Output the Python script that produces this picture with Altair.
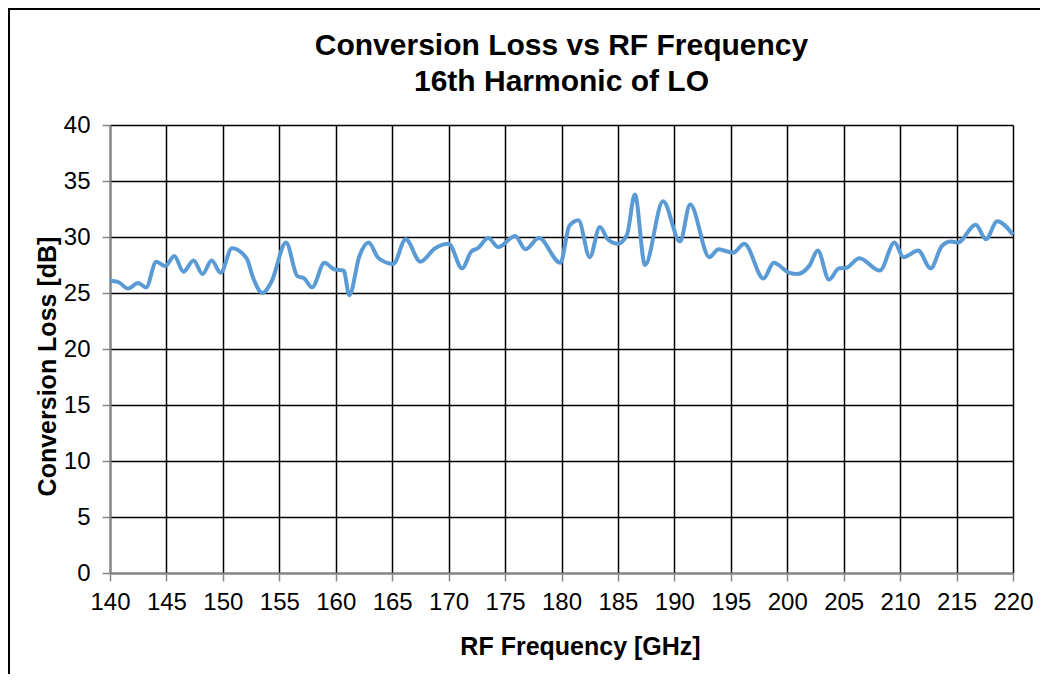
import altair as alt
import pandas as pd

freq = [140.0, 140.7, 141.6, 142.5, 143.2, 144.1, 144.9, 145.7, 146.5, 147.4, 148.2, 149.0, 149.8,
        150.8, 152.1, 152.7, 153.5, 154.3, 155.6, 156.6, 157.2, 157.9, 159.0, 159.9, 160.7,
        161.2, 162.1, 162.9, 163.8, 165.1, 166.2, 167.5, 168.8, 170.0, 171.2, 172.0, 172.6,
        173.5, 174.4, 175.9, 176.8, 178.0, 179.9, 180.7, 181.5, 182.5, 183.4, 184.1, 185.0,
        185.8, 186.5, 187.4, 189.0, 190.5, 191.4, 193.1, 193.9, 195.2, 196.2, 197.9, 198.8,
        200.2, 200.9, 202.0, 202.7, 203.7, 204.6, 205.1, 206.4, 208.2, 209.5, 210.3, 211.6,
        212.7, 213.7, 214.5, 215.1, 216.7, 217.6, 218.6, 220.0]
loss = [26.1, 26.0, 25.4, 25.9, 25.5, 27.8, 27.4, 28.3, 26.9, 27.9, 26.7, 27.9, 26.8,
        29.0, 28.1, 26.3, 25.0, 26.0, 29.5, 26.5, 26.3, 25.5, 27.7, 27.1, 27.0,
        24.8, 28.3, 29.5, 28.1, 27.6, 29.8, 27.8, 29.0, 29.4, 27.2, 28.7, 29.0,
        29.9, 29.1, 30.1, 28.9, 29.9, 27.7, 31.0, 31.5, 28.2, 30.9, 29.8, 29.4,
        30.2, 33.8, 27.5, 33.2, 29.6, 32.9, 28.2, 28.9, 28.6, 29.4, 26.3, 27.7,
        26.8, 26.7, 27.5, 28.8, 26.2, 27.2, 27.2, 28.1, 27.0, 29.5, 28.2, 28.8,
        27.2, 29.2, 29.6, 29.5, 31.1, 29.8, 31.4, 30.2]

x_ticks = list(range(140, 221, 5))
y_ticks = list(range(0, 41, 5))

df = pd.DataFrame({"freq": freq, "loss": loss})

line = alt.Chart(df).mark_line(
    interpolate="monotone", color="#5B9BD5", strokeWidth=4
).encode(
    x=alt.X("freq:Q",
            scale=alt.Scale(domain=[140, 220], nice=False, zero=False),
            axis=alt.Axis(values=x_ticks, title="RF Frequency [GHz]",
                          titleX=470, titleY=73, titleBaseline="middle",
                          titleAlign="center", labelFlush=False,
                          labelOverlap=False)),
    y=alt.Y("loss:Q",
            scale=alt.Scale(domain=[0, 40], nice=False),
            axis=alt.Axis(values=y_ticks, title="Conversion Loss [dB]",
                          titleX=-63, titleY=241, titleAngle=-90,
                          titleBaseline="middle", titleAlign="center",
                          labelFlush=False, labelOverlap=False)),
)

border = pd.DataFrame({"k": [0]})
left_border = alt.Chart(border).mark_rule(color="#000000", strokeWidth=2).encode(
    x=alt.value(-101), y=alt.value(-117), y2=alt.value(565)
)
top_border = alt.Chart(border).mark_rule(color="#000000", strokeWidth=2).encode(
    x=alt.value(-102), x2=alt.value(930), y=alt.value(-116)
)

chart = alt.layer(left_border, top_border, line).properties(
    width=903,
    height=448,
    autosize=alt.AutoSizeParams(type="none"),
    padding={"left": 102, "top": 117, "right": 28, "bottom": 101},
    title=alt.Title(["Conversion Loss vs RF Frequency", "16th Harmonic of LO"],
                    anchor="middle", fontSize=30, font="Liberation Sans",
                    fontWeight="bold", color="#000000", offset=-90, lineHeight=36),
).configure_view(
    stroke=None
).configure_axis(
    grid=True, gridColor="#000000", gridWidth=1.5, gridOpacity=1,
    domainColor="#868686", domainWidth=2,
    tickColor="#868686", tickWidth=1.5, tickSize=8,
    labelFont="Liberation Sans", labelFontSize=24, labelColor="#000000",
    labelPadding=9,
    titleFont="Liberation Sans", titleFontSize=25, titleFontWeight="bold",
    titleColor="#000000",
).configure_axisY(
    labelPadding=12
)

chart.save("out.html", embed_options={"renderer": "svg", "actions": False})
